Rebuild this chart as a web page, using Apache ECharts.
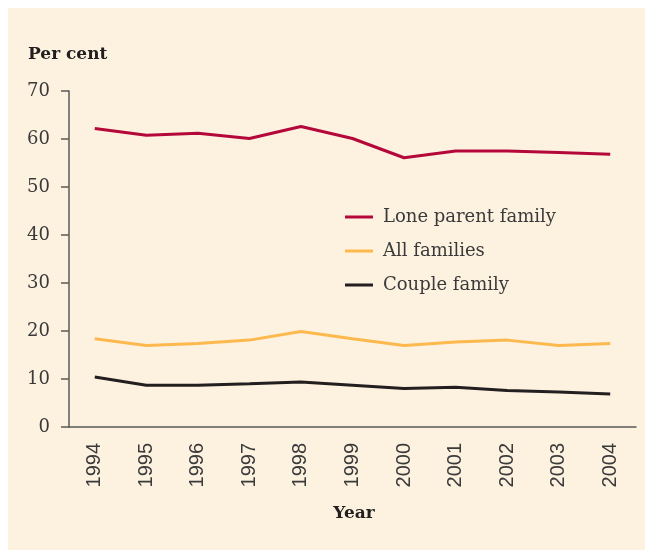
<!DOCTYPE html>
<html>
<head>
<meta charset="utf-8">
<script src="https://cdn.jsdelivr.net/npm/echarts@6/dist/echarts.min.js"></script>
<style>
  html, body { margin: 0; padding: 0; background: #ffffff; }
  #chart {
    width: 645px; height: 550px;
    background: linear-gradient(#fdf1e0, #fdf1e0) no-repeat 8px 8px / 637px 542px, #ffffff;
  }
</style>
</head>
<body>
<div id="chart"></div>
<script>
const years = ['1994','1995','1996','1997','1998','1999','2000','2001','2002','2003','2004'];
const loneParent = [62.2, 60.8, 61.2, 60.1, 62.6, 60.1, 56.1, 57.5, 57.5, 57.2, 56.8];
const allFamilies = [18.4, 17.0, 17.4, 18.1, 19.9, 18.4, 17.0, 17.7, 18.1, 17.0, 17.4];
const coupleFamily = [10.4, 8.7, 8.7, 9.0, 9.4, 8.7, 8.0, 8.3, 7.6, 7.3, 6.9];
const seriesNames = ['Lone parent family', 'All families', 'Couple family'];
const yTicks = { min: 0, max: 70, interval: 10 };

const chart = echarts.init(document.getElementById('chart'), null, { renderer: 'canvas' });
const axisColor = '#5a5a5a';
const textColor = '#3a3a3a';
const serif = '"DejaVu Serif", serif';

chart.setOption({
  backgroundColor: 'transparent',
  animation: false,
  grid: { left: 69, top: 91, width: 567, height: 336 },
  legend: {
    orient: 'vertical',
    left: 345, top: 207,
    padding: 0,
    itemGap: 14,
    icon: 'rect',
    itemWidth: 28, itemHeight: 3,
    data: seriesNames,
    textStyle: { fontFamily: serif, fontSize: 18, color: textColor, lineHeight: 20, padding: [0, 0, 0, 5] }
  },
  xAxis: {
    type: 'category',
    data: years,
    boundaryGap: true,
    axisLine: { lineStyle: { color: axisColor, width: 1.5 } },
    axisTick: { alignWithLabel: true, length: 8, lineStyle: { color: axisColor, width: 1.5 } },
    axisLabel: { rotate: 90, margin: 16, fontFamily: '"Liberation Sans", Arial, sans-serif', fontSize: 20, color: textColor, interval: 0 },
    splitLine: { show: false }
  },
  yAxis: {
    type: 'value',
    min: yTicks.min, max: yTicks.max, interval: yTicks.interval,
    axisLine: { show: true, lineStyle: { color: axisColor, width: 1.5 } },
    axisTick: { show: true, length: 8, lineStyle: { color: axisColor, width: 1.5 } },
    axisLabel: { margin: 19, fontFamily: serif, fontSize: 18, color: textColor },
    splitLine: { show: false }
  },
  graphic: [
    { type: 'text', left: 28, top: 46, style: { text: 'Per cent', fontFamily: serif, fontWeight: 'bold', fontSize: 17, fill: '#231f20' } },
    { type: 'text', x: 354, y: 514, style: { text: 'Year', fontFamily: serif, fontWeight: 'bold', fontSize: 17, fill: '#231f20', align: 'center', verticalAlign: 'middle' } }
  ],
  series: [
    { name: seriesNames[0], type: 'line', data: loneParent, symbol: 'none', lineStyle: { color: '#b5083a', width: 3 }, itemStyle: { color: '#b5083a' } },
    { name: seriesNames[1], type: 'line', data: allFamilies, symbol: 'none', lineStyle: { color: '#fdb94e', width: 3 }, itemStyle: { color: '#fdb94e' } },
    { name: seriesNames[2], type: 'line', data: coupleFamily, symbol: 'none', lineStyle: { color: '#231f20', width: 3 }, itemStyle: { color: '#231f20' } }
  ]
});
</script>
</body>
</html>
